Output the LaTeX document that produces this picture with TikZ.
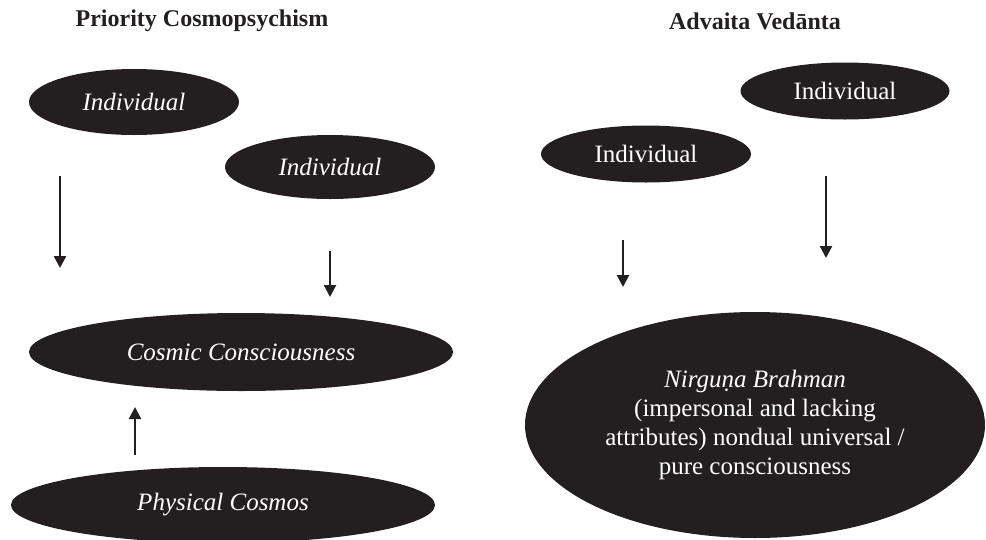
\documentclass[tikz,border=0pt]{standalone}
\usepackage{fontspec}
\setmainfont{Liberation Serif}
\usepackage{tikz}
\usetikzlibrary{arrows.meta,shapes.geometric}
\definecolor{ink}{HTML}{231F20}

\begin{document}
\begin{tikzpicture}[
  x=1pt, y=-1pt,
  blob/.style={ellipse, fill=ink, text=white, inner sep=0pt, align=center,
               font=\fontsize{25}{29}\selectfont},
  heading/.style={font=\fontsize{24}{28}\selectfont\bfseries, text=ink},
  arr/.style={draw=ink, line width=2.2pt, -{Triangle[length=12pt,width=12pt]}}]
\useasboundingbox (0,0) rectangle (986,539);
% left column
\node[heading] (pchead) at (202,21) {Priority Cosmopsychism};
\node[blob, minimum width=210, minimum height=66] (pcindA) at (134,102) {\itshape Individual};
\node[blob, minimum width=210, minimum height=64] (pcindB) at (330,167) {\itshape Individual};
\node[blob, minimum width=424, minimum height=78] (cosmic) at (241,352) {\itshape Cosmic Consciousness};
\node[blob, minimum width=424, minimum height=76] (phys) at (223,505) {\itshape Physical Cosmos};
% right column
\node[heading] (avhead) at (755,21) {Advaita Vedānta};
\node[blob, minimum width=209, minimum height=57] (avindA) at (845,91) {Individual};
\node[blob, minimum width=210, minimum height=57] (avindB) at (646,154) {Individual};
\node[blob, minimum width=460, minimum height=226] (brahman) at (755,425)
  {\itshape Nirguṇa Brahman\\(impersonal and lacking\\attributes) nondual universal /\\pure consciousness};
% free-standing arrows
\coordinate (pcA1) at (60,176);  \coordinate (pcA2) at (60,268);
\coordinate (pcB1) at (330,251); \coordinate (pcB2) at (330,297);
\coordinate (pcC1) at (135,455); \coordinate (pcC2) at (135,407);
\coordinate (avA1) at (826,176); \coordinate (avA2) at (826,258);
\coordinate (avB1) at (623,240); \coordinate (avB2) at (623,287);
\foreach \a/\b in {pcA1/pcA2,pcB1/pcB2,pcC1/pcC2,avA1/avA2,avB1/avB2}
  \draw[arr] (\a) -- (\b);
\end{tikzpicture}
\end{document}
